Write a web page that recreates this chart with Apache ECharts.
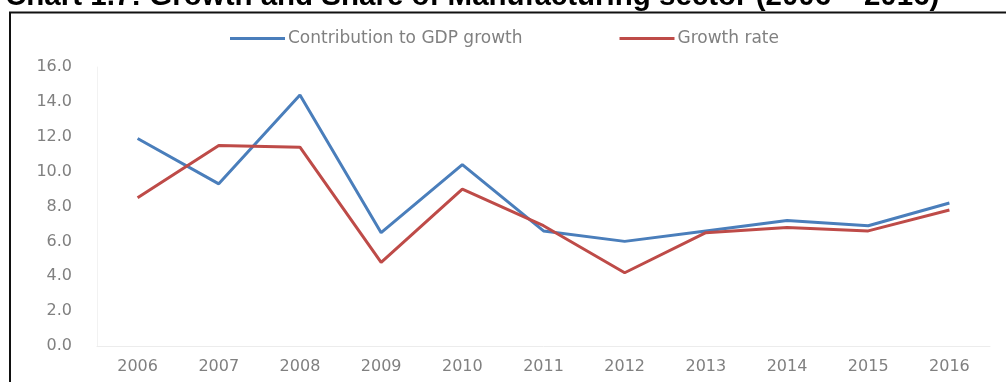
<!DOCTYPE html>
<html>
<head>
<meta charset="utf-8">
<script src="https://cdn.jsdelivr.net/npm/echarts@6/dist/echarts.min.js"></script>
<style>
  html, body { margin: 0; padding: 0; background: #fff; }
  #chart { width: 1006px; height: 382px; }
</style>
</head>
<body>
<div id="chart"></div>
<script>
// Manufacturing sector: contribution to GDP growth vs. sector growth rate (%)
const years = ['2006', '2007', '2008', '2009', '2010', '2011', '2012', '2013', '2014', '2015', '2016'];
const contributionToGdp = [11.9, 9.3, 14.4, 6.5, 10.4, 6.6, 6.0, 6.6, 7.2, 6.9, 8.2];
const growthRate = [8.5, 11.5, 11.4, 4.8, 9.0, 6.9, 4.2, 6.5, 6.8, 6.6, 7.8];

const labelFont = 'DejaVu Sans';
const labelColor = '#808080';

const chart = echarts.init(document.getElementById('chart'), null, { renderer: 'canvas' });

chart.setOption({
  animation: false,
  backgroundColor: '#fff',
  title: {
    text: 'Chart 1.7: Growth and Share of Manufacturing sector (2006 – 2016)',
    left: 0,
    top: -23,
    textStyle: {
      fontFamily: 'Liberation Sans',
      fontWeight: 'bold',
      fontSize: 29.5,
      color: '#000'
    }
  },
  graphic: [{
    type: 'rect',
    shape: { x: 10, y: 12.5, width: 1100, height: 500 },
    style: { fill: 'none', stroke: '#111', lineWidth: 2 },
    silent: true,
    z: -1
  }],
  legend: {
    top: 25,
    left: 225,
    itemWidth: 55,
    itemHeight: 3,
    itemGap: 97,
    icon: 'rect',
    textStyle: { fontFamily: labelFont, fontSize: 17, color: labelColor, padding: [0, 0, 0, -2] },
    data: ['Contribution to GDP growth', 'Growth rate']
  },
  grid: { left: 97, right: 16, top: 67, bottom: 36 },
  xAxis: {
    type: 'category',
    data: years,
    boundaryGap: true,
    axisLine: { show: true, lineStyle: { color: '#ececec', width: 1 } },
    axisTick: { show: false },
    axisLabel: { fontFamily: labelFont, fontSize: 16, color: labelColor, margin: 13 }
  },
  yAxis: {
    type: 'value',
    min: 0,
    max: 16,
    interval: 2,
    axisLine: { show: true, lineStyle: { color: '#f2f2f2', width: 1 } },
    axisTick: { show: false },
    splitLine: { show: false },
    axisLabel: {
      fontFamily: labelFont,
      fontSize: 16,
      color: labelColor,
      margin: 25,
      padding: [4, 0, 0, 0],
      formatter: v => v.toFixed(1)
    }
  },
  series: [
    {
      name: 'Contribution to GDP growth',
      type: 'line',
      data: contributionToGdp,
      symbol: 'none',
      lineStyle: { color: '#4a7ebb', width: 3 },
      itemStyle: { color: '#4a7ebb' }
    },
    {
      name: 'Growth rate',
      type: 'line',
      data: growthRate,
      symbol: 'none',
      lineStyle: { color: '#be4b48', width: 3 },
      itemStyle: { color: '#be4b48' }
    }
  ]
});
</script>
</body>
</html>
